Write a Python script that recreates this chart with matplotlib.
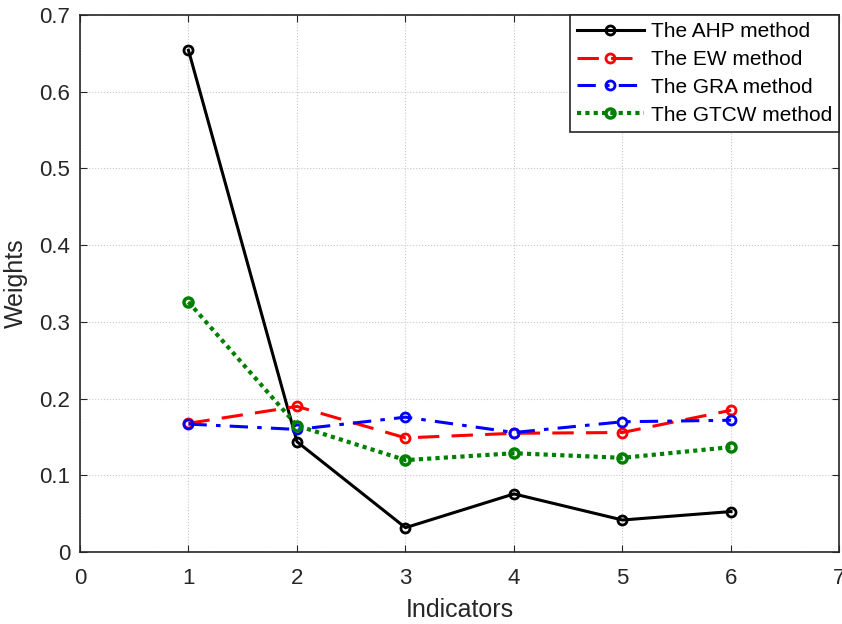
import matplotlib
matplotlib.use("Agg")
import matplotlib.pyplot as plt

plt.rcParams.update({'font.family': ['Liberation Sans', 'DejaVu Sans'], 'font.size': 15})

indicators = [1, 2, 3, 4, 5, 6]
ahp = [0.654, 0.144, 0.032, 0.076, 0.042, 0.053]
ew = [0.168, 0.190, 0.149, 0.155, 0.156, 0.185]
gra = [0.167, 0.160, 0.176, 0.156, 0.170, 0.172]
gtcw = [0.326, 0.165, 0.120, 0.129, 0.123, 0.137]

labels = ["The AHP method", "The EW method", "The GRA method", "The GTCW method"]

fig = plt.figure(figsize=(8.42, 6.24), dpi=100)
ax = fig.add_axes([0.095, 0.115, 0.902, 0.861])

ax.plot(indicators, ahp, '-o', color='black', lw=2.2, ms=6.5, mfc='none', mew=2, label=labels[0])
ax.plot(indicators, ew, '--o', color='#FF0000', lw=2.2, ms=6.5, mfc='none', mew=2,
        dashes=(7, 4), label=labels[1])
ax.plot(indicators, gra, '-.o', color='#0000FF', lw=2.2, ms=6.5, mfc='none', mew=2,
        dashes=(6, 3, 1.5, 3), label=labels[2])
ax.plot(indicators, gtcw, ':o', color='#008000', lw=3, ms=6.5, mfc='none', mew=2.5,
        dashes=(1, 1), label=labels[3])

ax.set_xlim(0, 7)
ax.set_ylim(0, 0.7)
ax.set_xticks(range(0, 8))
ax.set_yticks([0, 0.1, 0.2, 0.3, 0.4, 0.5, 0.6, 0.7])
ax.set_yticklabels(['0', '0.1', '0.2', '0.3', '0.4', '0.5', '0.6', '0.7'])
ax.tick_params(direction='in', top=True, right=True, length=5, labelsize=16,
               color='#262626', labelcolor='#262626')
ax.tick_params(axis='x', pad=11)
ax.tick_params(axis='y', pad=7)
ax.grid(True, color='#C8C8C8', ls=':', lw=0.8)
for s in ax.spines.values():
    s.set_color('#262626')
    s.set_linewidth(1.2)

ax.set_xlabel("Indicators", fontsize=18, color='#262626', labelpad=7)
ax.set_ylabel("Weights", fontsize=18, color='#262626', labelpad=8)

leg = ax.legend(loc='upper right', fontsize=15, frameon=True, fancybox=False,
                edgecolor='#262626', framealpha=1, handlelength=3.2,
                borderpad=0.35, labelspacing=0.42, handletextpad=0.35, borderaxespad=0)
leg.get_frame().set_linewidth(1.2)

fig.savefig("out.png", dpi=100, facecolor='white')
